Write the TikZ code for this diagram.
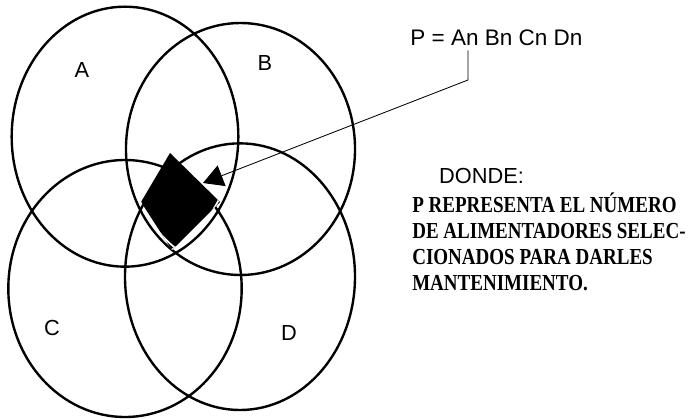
\documentclass[tikz,border=0pt]{standalone}
\usepackage{fontspec}
\usetikzlibrary{arrows.meta,calc,positioning}
\newfontfamily\labelfont{Liberation Sans}
\newfontfamily\notefont[FakeStretch=0.83]{Liberation Serif}

\begin{document}
\begin{tikzpicture}[>=Latex,
  ring/.style={draw=black,line width=1.7pt},
  gap/.style={draw=white,line width=1.2pt},
  setlbl/.style={font=\labelfont\fontsize{15.5}{18}\selectfont,inner sep=0pt},
  eqnlbl/.style={font=\labelfont\fontsize{16}{18}\selectfont,inner sep=3pt},
  note/.style={align=left,inner sep=0pt,
              font=\notefont\bfseries\fontsize{16.3}{18.5}\selectfont},
  pointer/.style={draw=black,line width=0.6pt}]
  \useasboundingbox (0,0) rectangle (17.425,-10.475);
  % conjuntos
  \draw[ring] (3.125,-3.417) ellipse [x radius=2.833,y radius=3.25];
  \draw[ring] (6.0125,-3.725) ellipse [x radius=2.863,y radius=3.15];
  \draw[ring] (3.125,-7.2125) ellipse [x radius=2.917,y radius=3.2125];
  \draw[ring] (6.0,-6.917) ellipse [x radius=2.875,y radius=3.333];
  \node[setlbl](lblA) at (2.05,-1.75) {A};
  \node[setlbl](lblB) at (6.625,-1.583) {B};
  \node[setlbl](lblC) at (1.3,-8.2) {C};
  \node[setlbl](lblD) at (7.225,-8.325) {D};
  % interseccion
  \coordinate (dtop) at (4.25,-3.825);
  \coordinate (dright) at (5.5,-5.05);
  \coordinate (dbot) at (4.3,-6.25);
  \coordinate (dleft) at (3.525,-5.05);
  \fill (dtop)--(dright)--(dbot)--(dleft)--cycle;
  \begin{scope}
    \clip (dtop)--(dright)--(dbot)--(dleft)--cycle;
    \draw[gap] (3.125,-3.417) ellipse [x radius=2.713,y radius=3.13];
    \draw[gap] (6.0125,-3.725) ellipse [x radius=2.773,y radius=3.06];
  \end{scope}
  % etiqueta
  \node[eqnlbl](eqn) at (12.41,-0.95) {P = An Bn Cn Dn};
  \coordinate (bend) at (11.7,-2.0);
  \coordinate (tip) at (5.075,-4.575);
  \draw[pointer,-{Triangle[length=0.5cm,width=0.55cm]}] (bend |- eqn.south) -- (bend) -- (tip);
  \node[setlbl](donde) at (12.04,-4.4) {DONDE:};
  \node[note,anchor=north west](desc) at (10.3,-4.82)
    {P REPRESENTA EL NÚMERO\\DE ALIMENTADORES SELEC-\\CIONADOS PARA DARLES\\MANTENIMIENTO.};
\end{tikzpicture}
\end{document}
